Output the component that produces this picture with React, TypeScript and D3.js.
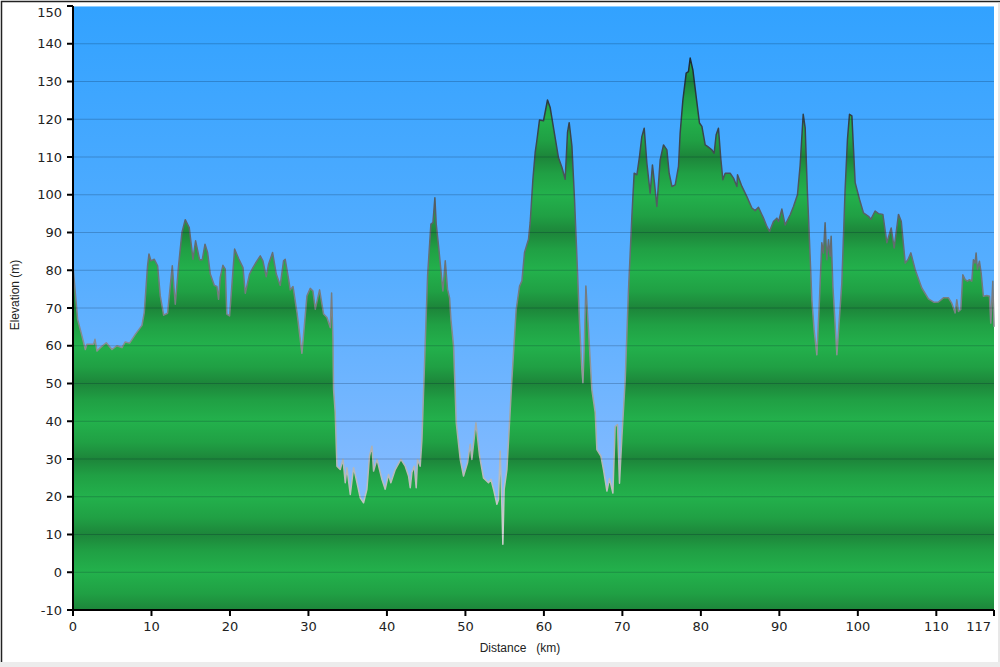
import * as d3 from 'd3';

// distance along the route (km) and elevation (m)
const DISTANCE_KM = [
  0, 0.59, 1.14, 1.57, 1.78, 2.63, 2.8, 3.06, 3.48, 4.24, 4.97, 5.6, 6.24, 6.66, 7.21, 7.94, 8.79, 9.08,
  9.5, 9.68, 9.93, 10.36, 10.78, 11.12, 11.55, 12.05, 12.31, 12.65, 13.03, 13.45, 13.88, 14.3, 14.81,
  15.29, 15.62, 16.13, 16.47, 16.82, 17.15, 17.49, 18.0, 18.34, 18.55, 18.76, 19.1, 19.4, 19.6, 19.95,
  20.59, 21.1, 21.66, 21.95, 22.5, 22.93, 23.44, 23.86, 24.2, 24.62, 24.92, 25.43, 25.9, 26.4, 26.83,
  27.04, 27.47, 27.68, 28.03, 28.54, 29.17, 29.81, 30.23, 30.57, 30.87, 31.42, 31.93, 32.36, 32.78,
  32.95, 33.12, 33.2, 33.41, 33.63, 34.05, 34.4, 34.69, 34.9, 35.33, 35.75, 36.09, 36.6, 37.02, 37.45,
  37.78, 38.09, 38.3, 38.73, 39.36, 39.78, 40.2, 40.5, 41.06, 41.78, 42.33, 42.75, 42.97, 43.18, 43.48,
  43.73, 43.9, 44.24, 44.46, 44.88, 45.18, 45.6, 45.86, 46.11, 46.28, 46.58, 47.13, 47.43, 47.72, 47.98,
  48.15, 48.49, 48.83, 49.34, 49.76, 50.27, 50.61, 50.82, 51.34, 51.8, 52.3, 52.94, 53.25, 53.58, 54.01,
  54.22, 54.43, 54.65, 54.77, 54.94, 55.29, 55.92, 56.47, 56.9, 57.2, 57.53, 58.04, 58.25, 58.6, 58.89,
  59.1, 59.44, 59.95, 60.46, 60.8, 61.32, 61.86, 62.3, 62.71, 63.01, 63.22, 63.57, 63.9, 64.2, 64.54,
  64.84, 64.97, 65.13, 65.35, 65.68, 66.11, 66.54, 66.75, 67.26, 67.59, 68.03, 68.36, 68.79, 69.08,
  69.38, 69.63, 69.94, 70.36, 70.78, 71.21, 71.5, 71.85, 72.18, 72.48, 72.78, 73.12, 73.54, 73.83,
  74.09, 74.39, 74.82, 75.24, 75.67, 75.96, 76.31, 76.73, 77.15, 77.36, 77.71, 78.13, 78.42, 78.64,
  78.98, 79.4, 79.82, 80.13, 80.55, 80.84, 81.4, 81.69, 81.95, 82.24, 82.55, 82.8, 83.1, 83.73, 84.16,
  84.59, 84.67, 85.23, 85.86, 86.5, 86.92, 87.34, 87.98, 88.41, 88.75, 89.25, 89.68, 89.9, 90.32, 90.74,
  91.38, 91.8, 92.31, 92.65, 93.04, 93.29, 93.58, 93.71, 93.92, 94.14, 94.43, 94.78, 95.11, 95.41,
  95.62, 95.83, 96.05, 96.26, 96.47, 96.6, 96.82, 97.33, 97.96, 98.38, 98.68, 98.94, 99.24, 99.66,
  100.21, 100.72, 101.36, 101.66, 102.2, 102.63, 103.19, 103.7, 104.25, 104.63, 105.18, 105.53, 106.04,
  106.38, 106.76, 107.3, 108.15, 109, 109.72, 110.27, 110.91, 111.55, 111.98, 112.4, 112.61, 112.82,
  113.12, 113.38, 113.67, 113.97, 114.22, 114.52, 114.73, 114.94, 115.07, 115.24, 115.49, 115.71, 116.0,
  116.43, 116.77, 116.94, 117.2, 117.35,
];

const ELEVATION_M = [
  81, 67, 62.6, 59, 60.4, 60.4, 61.7, 58.6, 59.5, 60.8, 59, 60, 59.5, 61, 60.7, 63, 65.4, 68.8,
  81.2, 84.3, 82.5, 82.9, 81.2, 73.2, 68.1, 68.6, 74.1, 81.2, 71, 81.2, 90, 93.4, 91.3,
  82.9, 87.8, 82.8, 82.8, 86.9, 84.7, 79, 76, 75.7, 72.3, 78.1, 81.3, 80.3, 68.4, 67.9,
  85.6, 83.1, 80.7, 73.9, 79, 80.7, 82.5, 83.8, 82.5, 78.3, 81.6, 84.7, 79, 76, 82.5,
  82.9, 77.6, 74.8, 75.7, 68.8, 58, 73.2, 75.2, 74.5, 69.7, 74.8, 68.4, 67.5, 64.8,
  74, 61.7, 48.4, 42.3, 28.1, 27.2, 29.9, 23.7, 27.7, 20.6, 27.7, 24.6, 19.7, 18.4, 22,
  30.8, 33.4, 26.8, 29.9, 24.6, 22, 25.9, 23.7, 27.2, 29.9, 28.1, 25.5, 22.4, 26.4, 28.1,
  22.4, 29.9, 28.1, 35.2, 60.8, 78.5, 92.2, 92.6, 99.2, 92.2, 86.4, 74.5, 82.5, 75, 72.7,
  67, 59.9, 39.6, 29.9, 25.5, 29, 33.9, 29.9, 39.6, 30.8, 25, 23.7, 24.6, 22, 18,
  19.3, 32.1, 17.5, 7.4, 22, 27.2, 51.1, 69.6, 75.8, 77.2, 84.7, 88.2, 92.6, 104.1, 111.2,
  114.3, 119.8, 119.6, 125.1, 123.1, 116.5, 109.8, 107.2, 104.1, 116.5, 119.1, 112.9, 98.8, 83.8, 66.1,
  53.7, 50.2, 59, 75.8, 64.3, 48.4, 42.3, 32.5, 30.8, 27.2, 21.5, 24.8, 21, 38.6,
  39.1, 23.6, 36, 51, 74.8, 94.3, 105.7, 105.3, 110.1, 115.4, 117.6, 108.4, 100.4, 107.9,
  103.1, 96.9, 109.3, 113.2, 111.9, 105.7, 102.2, 102.6, 107.5, 116.3, 125.1, 132.2, 132.6, 136.2,
  133.1, 126, 119, 118.1, 113.2, 112.8, 111.9, 111, 115.9, 117.6, 109.3, 104, 105.7, 105.7, 104.4,
  102.2, 105.3, 102.2, 99.5, 96.5, 95.8, 96.7, 93.8, 91.6, 90.3, 92.9, 93.8, 92.9, 96.2, 92,
  94.7, 96.9, 100, 107.8, 121.3, 117.7, 100.4, 94.3, 83.7, 72.2, 64.2, 57.6, 72.2, 87.3,
  84.6, 92.6, 82.8, 88.1, 83.7, 89, 75.8, 57.6, 76.6, 101.4, 114.7, 121.3, 120.9, 103.2,
  98.8, 95.2, 94.3, 93.5, 95.7, 95, 94.8, 87.3, 91.2, 85.9, 94.8, 93, 81.9,
  82.8, 84.6, 80.2, 75.3, 72.4, 71.5, 71.6, 72.7, 72.7, 71.2, 68.7, 72.2, 69.1,
  69.6, 78.8, 77.5, 77.1, 77.5, 77.1, 82.8, 81.9, 84.6, 80.2, 82.4, 79.3, 73.1,
  73.3, 73.1, 66, 77.1, 65,
];

const Y_TICKS = [-10, 0, 10, 20, 30, 40, 50, 60, 70, 80, 90, 100, 110, 120, 130, 140, 150];
const X_TICKS = [0, 10, 20, 30, 40, 50, 60, 70, 80, 90, 100, 110, 117.35];
const X_TICK_LABELS = ['0', '10', '20', '30', '40', '50', '60', '70', '80', '90', '100', '110', '117'];

const W = 1000;
const H = 667;
const PLOT = { left: 73, right: 994, top: 6, bottom: 610 };

export default function App() {
  const x = d3.scaleLinear().domain([0, 117.35]).range([PLOT.left, PLOT.right]);
  const y = d3.scaleLinear().domain([-10, 150]).range([PLOT.bottom, PLOT.top]);

  const points = DISTANCE_KM.map((d, i) => [d, ELEVATION_M[i]] as [number, number]);

  const area = d3.area<[number, number]>()
    .x(d => x(d[0]))
    .y0(y(-10))
    .y1(d => y(d[1]));
  const line = d3.line<[number, number]>()
    .x(d => x(d[0]))
    .y(d => y(d[1]));

  const tickFont = "'DejaVu Sans', Verdana, sans-serif";
  const titleFont = "'Liberation Sans', Arial, sans-serif";
  const lastTick = X_TICKS.length - 1;

  return (
    <svg width={W} height={H} style={{ position: 'absolute', left: 0, top: 0, display: 'block' }}>
      <defs>
        <linearGradient id="sky" x1="0" y1="0" x2="0" y2="1">
          <stop offset="0" stopColor="#32a2ff" />
          <stop offset="0.45" stopColor="#57aeff" />
          <stop offset="0.75" stopColor="#7fb9ff" />
          <stop offset="1" stopColor="#95c3ff" />
        </linearGradient>
        <linearGradient id="bands" gradientUnits="userSpaceOnUse" x1="0" x2="0"
          y1={y(10)} y2={y(-10)} spreadMethod="repeat">
          <stop offset="0" stopColor="#1d853a" />
          <stop offset="0.22" stopColor="#20a044" />
          <stop offset="0.5" stopColor="#23b14c" />
          <stop offset="0.78" stopColor="#20a044" />
          <stop offset="1" stopColor="#1d853a" />
        </linearGradient>
        <linearGradient id="edge" gradientUnits="userSpaceOnUse" x1="0" x2="0"
          y1={y(140)} y2={y(10)}>
          <stop offset="0" stopColor="#17262e" />
          <stop offset="1" stopColor="#cfcfcf" />
        </linearGradient>
      </defs>

      <rect x={0} y={0} width={W} height={H} fill="#fff" />

      <rect x={PLOT.left} y={PLOT.top} width={PLOT.right - PLOT.left} height={PLOT.bottom - PLOT.top}
        fill="url(#sky)" />
      <line x1={PLOT.left} x2={PLOT.right} y1={PLOT.top + 0.5} y2={PLOT.top + 0.5}
        stroke="rgba(255,255,255,0.45)" />

      <path d={area(points) || ''} fill="url(#bands)" />
      <path d={line(points) || ''} fill="none" stroke="url(#edge)" strokeWidth={1.5}
        strokeLinejoin="round" />

      {Y_TICKS.filter(t => t > -10 && t < 150).map(t => (
        <line key={`g${t}`} x1={PLOT.left} x2={PLOT.right} y1={y(t)} y2={y(t)}
          stroke="rgba(0,20,40,0.22)" strokeWidth={1} />
      ))}

      {/* y axis */}
      <line x1={PLOT.left} x2={PLOT.left} y1={PLOT.top} y2={PLOT.bottom + 1} stroke="#000" strokeWidth={2} />
      {Y_TICKS.map(t => (
        <g key={`y${t}`}>
          <line x1={PLOT.left - 6} x2={PLOT.left} y1={y(t)} y2={y(t)} stroke="#000" strokeWidth={2} />
          <text x={62} y={t === 150 ? y(t) + 6 : y(t)} dy="0.36em" textAnchor="end"
            fontFamily={tickFont} fontSize={13} fill="#222">{t}</text>
        </g>
      ))}

      {/* x axis */}
      <line x1={PLOT.left - 1} x2={PLOT.right} y1={PLOT.bottom} y2={PLOT.bottom} stroke="#000" strokeWidth={2} />
      {X_TICKS.map((t, i) => (
        <g key={`x${t}`}>
          <line x1={x(t)} x2={x(t)} y1={PLOT.bottom} y2={PLOT.bottom + 6} stroke="#000" strokeWidth={2} />
          <text x={i === lastTick ? x(t) - 3 : x(t)} y={631}
            textAnchor={i === lastTick ? 'end' : 'middle'}
            fontFamily={tickFont} fontSize={13} fill="#222">
            {X_TICK_LABELS[i]}
          </text>
        </g>
      ))}

      <text x={520} y={652} textAnchor="middle" fontFamily={titleFont} fontSize={12} fill="#222"
        style={{ whiteSpace: 'pre' }}>{'Distance   (km)'}</text>
      <text transform="translate(19,295) rotate(-90)" textAnchor="middle" fontFamily={titleFont}
        fontSize={12} fill="#222">Elevation (m)</text>

      {/* window frame */}
      <rect x={0} y={662} width={W} height={5} fill="#ececec" />
      <path d="M1.5,662 V1.5 H1000" fill="none" stroke="#222" strokeWidth={1.5} />
      <line x1={999} x2={999} y1={2} y2={662} stroke="#d0d0d0" />
    </svg>
  );
}
